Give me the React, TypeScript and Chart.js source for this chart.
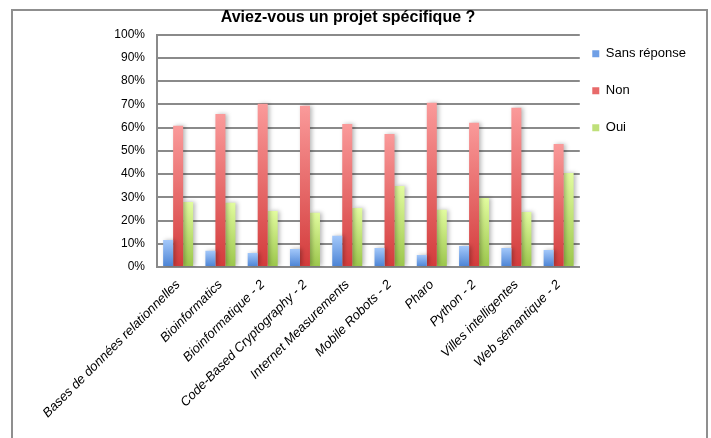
import React, { useEffect, useRef } from "react";
import { Chart, registerables } from "chart.js";

Chart.register(...registerables);

const categories = [
  "Bases de données relationnelles",
  "Bioinformatics",
  "Bioinformatique - 2",
  "Code-Based Cryptography - 2",
  "Internet Measurements",
  "Mobile Robots - 2",
  "Pharo",
  "Python - 2",
  "Villes intelligentes",
  "Web sémantique - 2",
];
const sansReponse = [11.6, 7.0, 6.0, 7.8, 13.4, 8.2, 5.2, 9.0, 8.2, 7.3];
const non = [60.8, 65.9, 70.3, 69.4, 61.6, 57.3, 70.7, 62.1, 68.5, 53.0];
const oui = [28.0, 27.7, 24.1, 23.4, 25.4, 34.9, 24.6, 29.7, 23.7, 40.5];
const seriesNames = ["Sans réponse", "Non", "Oui"];
const yTicks = [0, 10, 20, 30, 40, 50, 60, 70, 80, 90, 100];
const titleText = "Aviez-vous un projet spécifique ?";

const topColors = ["#a3c8fa", "#fa9a9a", "#e2fc9f"];
const bottomColors = ["#4a82d4", "#d33b3b", "#9bc64b"];
const legendColors = ["#6f9fe6", "#e86a6a", "#bfe07a"];

const FONT = "'Liberation Sans', Arial, sans-serif";

function gradientFill(idx: number) {
  return (c: any) => {
    const chart = c.chart;
    const yScale = chart.scales && chart.scales.y;
    if (!yScale || c.type !== "data" || !c.parsed) return legendColors[idx];
    const yTop = yScale.getPixelForValue(c.parsed.y);
    const yBot = yScale.getPixelForValue(0);
    if (!isFinite(yTop) || !isFinite(yBot) || yTop === yBot) return legendColors[idx];
    const g = chart.ctx.createLinearGradient(0, yTop, 0, yBot);
    g.addColorStop(0, topColors[idx]);
    g.addColorStop(1, bottomColors[idx]);
    return g;
  };
}

const shadowPlugin = {
  id: "barShadow",
  beforeDatasetsDraw(chart: any) {
    const ctx = chart.ctx;
    ctx.save();
    ctx.shadowColor = "rgba(0,0,0,0.28)";
    ctx.shadowBlur = 4;
    ctx.shadowOffsetX = 2;
    ctx.shadowOffsetY = 0;
  },
  afterDatasetsDraw(chart: any) {
    chart.ctx.restore();
  },
};

export default function App() {
  const ref = useRef<HTMLCanvasElement | null>(null);

  useEffect(() => {
    if (!ref.current) return;
    const values = [sansReponse, non, oui];
    const chart = new Chart(ref.current, {
      type: "bar",
      data: {
        labels: categories,
        datasets: values.map((v, i) => ({
          label: seriesNames[i],
          data: v,
          backgroundColor: gradientFill(i),
          borderWidth: 0,
          categoryPercentage: 0.71,
          barPercentage: 1.0,
        })),
      },
      plugins: [shadowPlugin],
      options: {
        responsive: false,
        animation: false,
        layout: { padding: { left: 0, right: 15, top: 0, bottom: 0 } },
        scales: {
          x: {
            grid: { display: false, drawTicks: false },
            border: { display: true, color: "#8a8a8a", width: 2 },
            ticks: {
              autoSkip: false,
              minRotation: 45,
              maxRotation: 45,
              padding: 10,
              color: "#000",
              font: { family: FONT, size: 13, style: "italic" },
            },
            afterFit(scale: any) {
              scale.height = 171;
            },
          },
          y: {
            min: 0,
            max: 100,
            afterBuildTicks(scale: any) {
              scale.ticks = yTicks.map((v) => ({ value: v }));
            },
            grid: { color: "#8a8a8a", lineWidth: 2, drawTicks: false },
            border: { display: true, color: "#8a8a8a", width: 2 },
            ticks: {
              padding: 12,
              color: "#000",
              font: { family: FONT, size: 12 },
              callback: (v: any) => v + "%",
            },
            afterFit(scale: any) {
              scale.width = 157;
            },
          },
        },
        plugins: {
          title: {
            display: true,
            text: titleText,
            color: "#000",
            font: { family: FONT, size: 16, weight: "bold" },
            padding: { top: 8, bottom: 7.5 },
          },
          legend: {
            position: "right",
            align: "start",
            fullSize: false,
            labels: {
              boxWidth: 7,
              boxHeight: 7,
              padding: 12.5,
              color: "#000",
              font: { family: FONT, size: 13, lineHeight: "24.5px" },
              generateLabels(ch: any) {
                const base = (Chart as any).defaults.plugins.legend.labels.generateLabels(ch);
                return base.map((l: any, i: number) => ({
                  ...l,
                  text: [l.text],
                  fillStyle: legendColors[i],
                  strokeStyle: "rgba(0,0,0,0)",
                  lineWidth: 0,
                }));
              },
            },
          },
          tooltip: { enabled: false },
        },
      },
    } as any);
    return () => chart.destroy();
  }, []);

  return (
    <div
      style={{
        position: "absolute",
        left: 0,
        top: 0,
        width: 711,
        height: 438,
        overflow: "hidden",
        background: "#fff",
      }}
    >
      <div
        style={{
          position: "absolute",
          left: 11,
          top: 9,
          width: 697,
          height: 460,
          boxSizing: "border-box",
          border: "2px solid #8f8f8f",
        }}
      />
      <canvas
        ref={ref}
        width={711}
        height={438}
        style={{ position: "absolute", left: 0, top: 0, width: 711, height: 438 }}
      />
    </div>
  );
}
